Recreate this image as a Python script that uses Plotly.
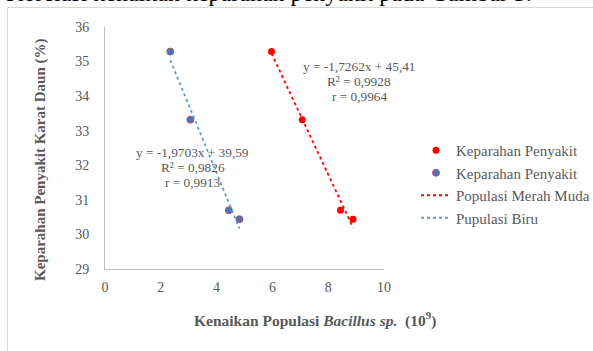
import numpy as np
import plotly.graph_objects as go

# ---- data ----
severity = [35.29, 33.32, 30.70, 30.44]
pop_pink = [5.97, 7.07, 8.44, 8.89]   # Populasi Merah Muda
pop_blue = [2.34, 3.06, 4.44, 4.82]   # Pupulasi Biru
eq_pink = ["y = -1,7262x + 45,41", "R² = 0,9928", "r = 0,9964"]
eq_blue = ["y = -1,9703x + 39,59", "R² = 0,9826", "r = 0,9913"]
x_ticks = [0, 2, 4, 6, 8, 10]
y_ticks = [29, 30, 31, 32, 33, 34, 35, 36]

W, H = 593, 351
L, R, T, B = 105, 384, 27, 269

def px(xp):
    return (xp - L) / (R - L)

def py(yp):
    return (B - yp) / (B - T)

SERIF = "Liberation Serif, Times New Roman, serif"
GRAY = "#595959"
RED = "#FF0000"
BLUE = "#4472C4"
LBLUE = "#5B9BD5"

fig = go.Figure()

fig.add_trace(go.Scatter(x=pop_pink, y=severity, mode="markers", name="Keparahan Penyakit",
                         marker=dict(color=RED, size=7)))
fig.add_trace(go.Scatter(x=pop_blue, y=severity, mode="markers", name="Keparahan Penyakit",
                         marker=dict(color=BLUE, size=7, line=dict(color="#C0504D", width=1))))

def trend(xs, ys):
    k, b = np.polyfit(xs, ys, 1)
    xx = np.array([min(xs), max(xs)])
    return xx, k * xx + b

tx, ty = trend(pop_pink, severity)
fig.add_trace(go.Scatter(x=tx, y=ty, mode="lines", name="Populasi Merah Muda",
                         line=dict(color=RED, width=1.8, dash="dot")))
tx, ty = trend(pop_blue, severity)
fig.add_trace(go.Scatter(x=tx, y=ty, mode="lines", name="Pupulasi Biru",
                         line=dict(color=LBLUE, width=1.8, dash="dot")))

ann = []
for i, t in enumerate(eq_pink):
    ann.append(dict(text=t, xref="paper", yref="paper", x=px(359), y=py(66 + 15 * i),
                    xanchor="center", yanchor="middle", showarrow=False,
                    font=dict(family=SERIF, size=13.3, color=GRAY)))
for i, t in enumerate(eq_blue):
    ann.append(dict(text=t, xref="paper", yref="paper", x=px(192.5), y=py(152 + 15 * i),
                    xanchor="center", yanchor="middle", showarrow=False,
                    font=dict(family=SERIF, size=13.3, color=GRAY)))
# axis titles
ann.append(dict(text="<b>Keparahan Penyakit Karat Daun (%)</b>", xref="paper", yref="paper",
                x=px(40), y=py(160), textangle=-90, xanchor="center", yanchor="middle",
                showarrow=False, font=dict(family=SERIF, size=15, color=GRAY)))
ann.append(dict(text="<b>Kenaikan Populasi <i>Bacillus sp.</i>  (10<sup>9</sup>)</b>", xref="paper", yref="paper",
                x=px(315), y=py(319), xanchor="center", yanchor="middle",
                showarrow=False, font=dict(family=SERIF, size=15.5, color=GRAY)))
# document text above the chart (cut off)
ann.append(dict(text="Korelasi kenaikan keparahan penyakit pada Gambar 3.", xref="paper", yref="paper",
                x=px(4), y=py(-7.5), xanchor="left", yanchor="middle",
                showarrow=False, font=dict(family=SERIF, size=24, color="#000000")))

shapes = [
    dict(type="line", xref="paper", yref="paper", x0=px(7.5), x1=px(W + 5), y0=py(7.5), y1=py(7.5),
         line=dict(color="#D9D9D9", width=1.2)),
    dict(type="line", xref="paper", yref="paper", x0=px(7.5), x1=px(7.5), y0=py(7.5), y1=py(H + 5),
         line=dict(color="#D9D9D9", width=1.2)),
]

fig.update_layout(
    width=W, height=H,
    margin=dict(l=L, r=W - R, t=T, b=H - B, pad=0, autoexpand=False),
    paper_bgcolor="white", plot_bgcolor="white",
    showlegend=True,
    legend=dict(x=px(416), y=py(134), xanchor="left", yanchor="top",
                font=dict(family=SERIF, size=15, color=GRAY), bgcolor="rgba(0,0,0,0)",
                tracegroupgap=0),
    annotations=ann, shapes=shapes,
    font=dict(family=SERIF, color=GRAY),
)
fig.update_xaxes(range=[0, 10], tickvals=x_ticks, showgrid=False, zeroline=False,
                 showline=True, linecolor="#BFBFBF", linewidth=1, ticks="",
                 ticklabelstandoff=5, tickfont=dict(family=SERIF, size=14, color=GRAY))
fig.update_yaxes(range=[29, 36], tickvals=y_ticks, showgrid=False, zeroline=False,
                 showline=True, linecolor="#BFBFBF", linewidth=1, ticks="",
                 ticklabelstandoff=12, tickfont=dict(family=SERIF, size=14, color=GRAY))

fig.write_html("out.html", config={"displayModeBar": False},
               post_script="document.body.style.margin='0';document.body.style.overflow='hidden';")
